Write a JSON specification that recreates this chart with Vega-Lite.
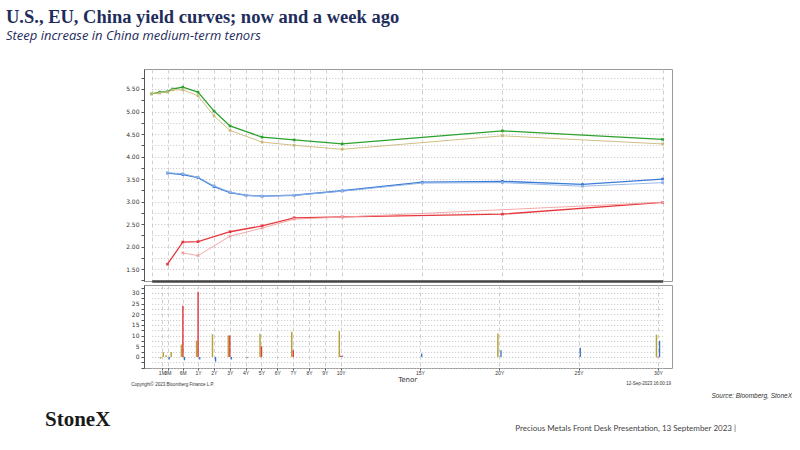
{
  "$schema": "https://vega.github.io/schema/vega-lite/v6.json",
  "background": "white",
  "padding": {"left": 6, "top": 8, "right": 0, "bottom": 0},
  "config": {
    "font": "Liberation Sans",
    "view": {"stroke": "#9a9a9a"},
    "concat": {"spacing": 2},
    "axis": {
      "labelFont": "DejaVu Sans",
      "labelFontSize": 6,
      "labelColor": "#333333",
      "tickColor": "#555555",
      "tickSize": 3,
      "domainColor": "#555555"
    }
  },
  "title": {
    "text": "U.S., EU, China yield curves; now and a week ago",
    "subtitle": "Steep increase in China medium-term tenors",
    "anchor": "start",
    "frame": "group",
    "dx": -138,
    "offset": 26,
    "font": "Liberation Serif",
    "fontSize": 18.5,
    "fontWeight": "bold",
    "color": "#1f2d5c",
    "subtitleFont": "Open Sans",
    "subtitleFontStyle": "italic",
    "subtitleFontSize": 13,
    "subtitleColor": "#1f2d5c",
    "subtitlePadding": 3
  },
  "datasets": {
    "curves": [
      {"series": "US", "when": "now", "tenor": "1M", "years": 0.0833333, "yld": 5.39},
      {"series": "US", "when": "now", "tenor": "2M", "years": 0.1666667, "yld": 5.43},
      {"series": "US", "when": "now", "tenor": "3M", "years": 0.25, "yld": 5.44},
      {"series": "US", "when": "now", "tenor": "4M", "years": 0.3333333, "yld": 5.50},
      {"series": "US", "when": "now", "tenor": "6M", "years": 0.5, "yld": 5.54},
      {"series": "US", "when": "now", "tenor": "1Y", "years": 1, "yld": 5.43},
      {"series": "US", "when": "now", "tenor": "2Y", "years": 2, "yld": 5.01},
      {"series": "US", "when": "now", "tenor": "3Y", "years": 3, "yld": 4.68},
      {"series": "US", "when": "now", "tenor": "5Y", "years": 5, "yld": 4.43},
      {"series": "US", "when": "now", "tenor": "7Y", "years": 7, "yld": 4.37},
      {"series": "US", "when": "now", "tenor": "10Y", "years": 10, "yld": 4.28},
      {"series": "US", "when": "now", "tenor": "20Y", "years": 20, "yld": 4.57},
      {"series": "US", "when": "now", "tenor": "30Y", "years": 30, "yld": 4.38},
      {"series": "US", "when": "old", "tenor": "1M", "years": 0.0833333, "yld": 5.40},
      {"series": "US", "when": "old", "tenor": "2M", "years": 0.1666667, "yld": 5.41},
      {"series": "US", "when": "old", "tenor": "3M", "years": 0.25, "yld": 5.43},
      {"series": "US", "when": "old", "tenor": "4M", "years": 0.3333333, "yld": 5.48},
      {"series": "US", "when": "old", "tenor": "6M", "years": 0.5, "yld": 5.48},
      {"series": "US", "when": "old", "tenor": "1Y", "years": 1, "yld": 5.35},
      {"series": "US", "when": "old", "tenor": "2Y", "years": 2, "yld": 4.90},
      {"series": "US", "when": "old", "tenor": "3Y", "years": 3, "yld": 4.58},
      {"series": "US", "when": "old", "tenor": "5Y", "years": 5, "yld": 4.32},
      {"series": "US", "when": "old", "tenor": "7Y", "years": 7, "yld": 4.25},
      {"series": "US", "when": "old", "tenor": "10Y", "years": 10, "yld": 4.16},
      {"series": "US", "when": "old", "tenor": "20Y", "years": 20, "yld": 4.46},
      {"series": "US", "when": "old", "tenor": "30Y", "years": 30, "yld": 4.28},
      {"series": "EU", "when": "now", "tenor": "3M", "years": 0.25, "yld": 3.63},
      {"series": "EU", "when": "now", "tenor": "6M", "years": 0.5, "yld": 3.60},
      {"series": "EU", "when": "now", "tenor": "1Y", "years": 1, "yld": 3.53},
      {"series": "EU", "when": "now", "tenor": "2Y", "years": 2, "yld": 3.33},
      {"series": "EU", "when": "now", "tenor": "3Y", "years": 3, "yld": 3.20},
      {"series": "EU", "when": "now", "tenor": "4Y", "years": 4, "yld": 3.14},
      {"series": "EU", "when": "now", "tenor": "5Y", "years": 5, "yld": 3.12},
      {"series": "EU", "when": "now", "tenor": "7Y", "years": 7, "yld": 3.14},
      {"series": "EU", "when": "now", "tenor": "10Y", "years": 10, "yld": 3.24},
      {"series": "EU", "when": "now", "tenor": "15Y", "years": 15, "yld": 3.43},
      {"series": "EU", "when": "now", "tenor": "20Y", "years": 20, "yld": 3.45},
      {"series": "EU", "when": "now", "tenor": "25Y", "years": 25, "yld": 3.38},
      {"series": "EU", "when": "now", "tenor": "30Y", "years": 30, "yld": 3.50},
      {"series": "EU", "when": "old", "tenor": "3M", "years": 0.25, "yld": 3.64},
      {"series": "EU", "when": "old", "tenor": "6M", "years": 0.5, "yld": 3.62},
      {"series": "EU", "when": "old", "tenor": "1Y", "years": 1, "yld": 3.54},
      {"series": "EU", "when": "old", "tenor": "2Y", "years": 2, "yld": 3.35},
      {"series": "EU", "when": "old", "tenor": "3Y", "years": 3, "yld": 3.21},
      {"series": "EU", "when": "old", "tenor": "4Y", "years": 4, "yld": 3.14},
      {"series": "EU", "when": "old", "tenor": "5Y", "years": 5, "yld": 3.12},
      {"series": "EU", "when": "old", "tenor": "7Y", "years": 7, "yld": 3.14},
      {"series": "EU", "when": "old", "tenor": "10Y", "years": 10, "yld": 3.23},
      {"series": "EU", "when": "old", "tenor": "15Y", "years": 15, "yld": 3.41},
      {"series": "EU", "when": "old", "tenor": "20Y", "years": 20, "yld": 3.42},
      {"series": "EU", "when": "old", "tenor": "25Y", "years": 25, "yld": 3.34},
      {"series": "EU", "when": "old", "tenor": "30Y", "years": 30, "yld": 3.42},
      {"series": "China", "when": "now", "tenor": "3M", "years": 0.25, "yld": 1.61},
      {"series": "China", "when": "now", "tenor": "6M", "years": 0.5, "yld": 2.10},
      {"series": "China", "when": "now", "tenor": "1Y", "years": 1, "yld": 2.11},
      {"series": "China", "when": "now", "tenor": "3Y", "years": 3, "yld": 2.33},
      {"series": "China", "when": "now", "tenor": "5Y", "years": 5, "yld": 2.46},
      {"series": "China", "when": "now", "tenor": "7Y", "years": 7, "yld": 2.64},
      {"series": "China", "when": "now", "tenor": "10Y", "years": 10, "yld": 2.66},
      {"series": "China", "when": "now", "tenor": "20Y", "years": 20, "yld": 2.72},
      {"series": "China", "when": "now", "tenor": "30Y", "years": 30, "yld": 2.98},
      {"series": "China", "when": "old", "tenor": "6M", "years": 0.5, "yld": 1.86},
      {"series": "China", "when": "old", "tenor": "1Y", "years": 1, "yld": 1.80},
      {"series": "China", "when": "old", "tenor": "3Y", "years": 3, "yld": 2.23},
      {"series": "China", "when": "old", "tenor": "5Y", "years": 5, "yld": 2.41},
      {"series": "China", "when": "old", "tenor": "7Y", "years": 7, "yld": 2.61},
      {"series": "China", "when": "old", "tenor": "10Y", "years": 10, "yld": 2.655},
      {"series": "China", "when": "old", "tenor": "30Y", "years": 30, "yld": 2.983}
    ],
    "changes": [
      {"series": "US", "tenor": "1M", "years": 0.0833333, "chg": -0.8},
      {"series": "US", "tenor": "2M", "years": 0.1666667, "chg": 2.2},
      {"series": "US", "tenor": "3M", "years": 0.25, "chg": 0.8},
      {"series": "US", "tenor": "4M", "years": 0.3333333, "chg": 2.3},
      {"series": "US", "tenor": "6M", "years": 0.5, "chg": 5.8},
      {"series": "US", "tenor": "1Y", "years": 1, "chg": 7.6},
      {"series": "US", "tenor": "2Y", "years": 2, "chg": 10.6},
      {"series": "US", "tenor": "3Y", "years": 3, "chg": 10.1},
      {"series": "US", "tenor": "5Y", "years": 5, "chg": 10.9},
      {"series": "US", "tenor": "7Y", "years": 7, "chg": 11.8},
      {"series": "US", "tenor": "10Y", "years": 10, "chg": 12.1},
      {"series": "US", "tenor": "20Y", "years": 20, "chg": 11.0},
      {"series": "US", "tenor": "30Y", "years": 30, "chg": 10.4},
      {"series": "China", "tenor": "6M", "years": 0.5, "chg": 24.0},
      {"series": "China", "tenor": "1Y", "years": 1, "chg": 30.6},
      {"series": "China", "tenor": "3Y", "years": 3, "chg": 10.1},
      {"series": "China", "tenor": "5Y", "years": 5, "chg": 5.0},
      {"series": "China", "tenor": "7Y", "years": 7, "chg": 3.1},
      {"series": "China", "tenor": "10Y", "years": 10, "chg": 0.5},
      {"series": "China", "tenor": "30Y", "years": 30, "chg": -0.3},
      {"series": "EU", "tenor": "3M", "years": 0.25, "chg": -1.2},
      {"series": "EU", "tenor": "6M", "years": 0.5, "chg": -1.6},
      {"series": "EU", "tenor": "1Y", "years": 1, "chg": -1.2},
      {"series": "EU", "tenor": "2Y", "years": 2, "chg": -2.2},
      {"series": "EU", "tenor": "3Y", "years": 3, "chg": -1.2},
      {"series": "EU", "tenor": "4Y", "years": 4, "chg": -0.4},
      {"series": "EU", "tenor": "10Y", "years": 10, "chg": 0.6},
      {"series": "EU", "tenor": "15Y", "years": 15, "chg": 1.6},
      {"series": "EU", "tenor": "20Y", "years": 20, "chg": 3.1},
      {"series": "EU", "tenor": "25Y", "years": 25, "chg": 4.3},
      {"series": "EU", "tenor": "30Y", "years": 30, "chg": 7.6}
    ]
  },
  "vconcat": [
    {
      "title": {
        "text": "Precious Metals Front Desk Presentation, 13 September 2023 |",
        "orient": "bottom",
        "anchor": "start",
        "align": "right",
        "frame": "group",
        "dx": 592,
        "dy": -9,
        "offset": 4,
        "font": "Lato",
        "fontSize": 8,
        "fontWeight": "normal",
        "color": "#444444"
      },
      "vconcat": [
        {
          "title": {
            "text": "StoneX",
            "orient": "bottom",
            "anchor": "start",
            "frame": "group",
            "dx": -99,
            "offset": 9,
            "font": "Liberation Serif",
            "fontSize": 21,
            "fontWeight": "bold",
            "color": "#1a1a1a"
          },
          "vconcat": [
            {
              "title": {
                "text": "Source:  Bloomberg,  StoneX",
                "orient": "bottom",
                "anchor": "start",
                "align": "right",
                "frame": "group",
                "dx": 648,
                "offset": 6,
                "fontSize": 6.5,
                "fontStyle": "italic",
                "fontWeight": "normal",
                "color": "#333333"
              },
              "vconcat": [
                {
                  "title": {
                    "text": "12-Sep-2023 16:00:19",
                    "orient": "bottom",
                    "anchor": "start",
                    "align": "right",
                    "frame": "group",
                    "dx": 527,
                    "dy": -6,
                    "offset": 0,
                    "fontSize": 4.5,
                    "fontWeight": "normal",
                    "color": "#333333"
                  },
                  "vconcat": [
                    {
                      "width": 528,
                      "height": 212,
                      "data": {"name": "curves"},
                      "mark": {"type": "line", "point": {"shape": "square", "size": 7, "filled": true}},
                      "encoding": {
                        "x": {
                          "field": "years",
                          "type": "quantitative",
                          "scale": {"domain": [0.0833333, 0.25, 0.5, 1, 30], "range": [7.7, 23.5, 38.8, 54, 518.6], "zero": false, "nice": false},
                          "axis": {
                            "values": [0.0833333, 0.25, 0.5, 1, 2, 3, 4, 5, 6, 7, 8, 9, 10, 15, 20, 25, 30],
                            "labels": false,
                            "ticks": false,
                            "title": null,
                            "domainColor": "#444444",
                            "domainWidth": 2.5,
                            "grid": true,
                            "gridDash": [4, 3],
                            "gridColor": "#d0d0d0"
                          }
                        },
                        "y": {
                          "field": "yld",
                          "type": "quantitative",
                          "scale": {"domain": [1.236, 5.944], "zero": false, "nice": false},
                          "axis": {
                            "values": [1.25, 1.5, 1.75, 2, 2.25, 2.5, 2.75, 3, 3.25, 3.5, 3.75, 4, 4.25, 4.5, 4.75, 5, 5.25, 5.5, 5.75],
                            "labelExpr": "round(datum.value * 100) % 50 == 0 ? format(datum.value, '.2f') : ''",
                            "title": null,
                            "grid": true,
                            "gridDash": [1, 2],
                            "gridColor": "#c4c4c4"
                          }
                        },
                        "color": {
                          "field": "key",
                          "type": "nominal",
                          "scale": {
                            "domain": ["US old", "EU old", "China old", "US now", "EU now", "China now"],
                            "range": ["#c9b877", "#8fb2e6", "#f2a0a0", "#2ea02e", "#3c7bd6", "#e6383e"]
                          },
                          "legend": null
                        },
                        "strokeWidth": {
                          "field": "when",
                          "type": "nominal",
                          "scale": {"domain": ["old", "now"], "range": [0.9, 1.3]},
                          "legend": null
                        }
                      },
                      "transform": [
                        {"calculate": "datum.series + ' ' + datum.when", "as": "key"}
                      ]
                    },
                    {
                      "width": 528,
                      "height": 83,
                      "title": {
                        "text": "Copyright© 2023 Bloomberg Finance L.P.",
                        "orient": "bottom",
                        "anchor": "start",
                        "frame": "bounds",
                        "offset": 0,
                        "fontSize": 4.5,
                        "fontWeight": "normal",
                        "color": "#333333"
                      },
                      "layer": [
                        {
                          "data": {"values": [{"base": 0}]},
                          "mark": {"type": "rule", "color": "#9a9a9a", "strokeWidth": 1},
                          "encoding": {"y": {"field": "base", "type": "quantitative"}}
                        },
                        {
                          "data": {"name": "changes"},
                          "transform": [{"filter": "datum.series == 'US'"}],
                          "mark": {"type": "bar", "width": 1.5, "xOffset": -1.4, "color": "#b5a43c"},
                          "encoding": {
                            "x": {"field": "years", "type": "quantitative"},
                            "y": {"field": "chg", "type": "quantitative"}
                          }
                        },
                        {
                          "data": {"name": "changes"},
                          "transform": [{"filter": "datum.series == 'China'"}],
                          "mark": {"type": "bar", "width": 1.4, "xOffset": 0.1, "color": "#e2363b"},
                          "encoding": {
                            "x": {"field": "years", "type": "quantitative"},
                            "y": {"field": "chg", "type": "quantitative"}
                          }
                        },
                        {
                          "data": {"name": "changes"},
                          "transform": [{"filter": "datum.series == 'EU'"}],
                          "mark": {"type": "bar", "width": 1.3, "xOffset": 1.7, "color": "#3a6fc6"},
                          "encoding": {
                            "x": {"field": "years", "type": "quantitative"},
                            "y": {"field": "chg", "type": "quantitative"}
                          }
                        }
                      ],
                      "encoding": {
                        "x": {
                          "field": "years",
                          "type": "quantitative",
                          "scale": {"domain": [0.0833333, 0.25, 0.5, 1, 30], "range": [7.7, 23.5, 38.8, 54, 518.6], "zero": false, "nice": false},
                          "axis": {
                            "values": [0.0833333, 0.25, 0.5, 1, 2, 3, 4, 5, 6, 7, 8, 9, 10, 15, 20, 25, 30],
                            "labelExpr": "datum.value < 0.9 ? format(datum.value * 12, '.0f') + 'M' : datum.value + 'Y'",
                            "labelOverlap": false,
                            "labelFont": "Liberation Sans",
                            "labelFontSize": 5,
                            "domain": false,
                            "tickSize": 2,
                            "labelPadding": 0,
                            "title": "Tenor",
                            "titleFont": "DejaVu Sans",
                            "titleFontSize": 7,
                            "titleFontWeight": "normal",
                            "titleColor": "#333333",
                            "titlePadding": 0,
                            "grid": true,
                            "gridDash": [4, 3],
                            "gridColor": "#d0d0d0"
                          }
                        },
                        "y": {
                          "field": "chg",
                          "type": "quantitative",
                          "scale": {"domain": [-5.2, 33.74], "zero": false, "nice": false},
                          "axis": {
                            "values": [-5, -2.5, 0, 2.5, 5, 7.5, 10, 12.5, 15, 17.5, 20, 22.5, 25, 27.5, 30, 32.5],
                            "labelExpr": "datum.value >= 0 && datum.value % 5 == 0 ? datum.value : ''",
                            "title": null,
                            "grid": true,
                            "gridDash": [1, 2],
                            "gridColor": "#c4c4c4"
                          }
                        }
                      }
                    }
                  ]
                }
              ]
            }
          ]
        }
      ]
    }
  ]
}
